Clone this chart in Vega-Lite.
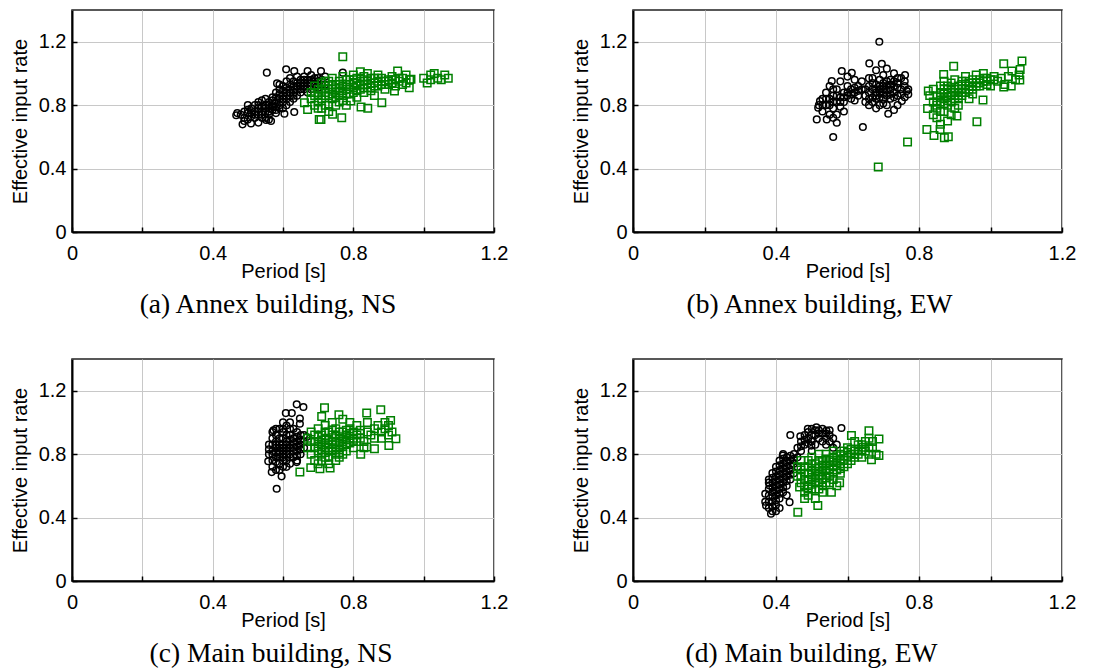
{
  "$schema": "https://vega.github.io/schema/vega-lite/v6.json",
  "background": "white",
  "padding": {"left": 9, "top": 9, "right": 5, "bottom": 0},
  "config": {
    "view": {"stroke": "#222222", "strokeWidth": 1.5},
    "font": "Liberation Sans",
    "axis": {
      "labelFont": "Liberation Sans", "labelFontSize": 20, "labelColor": "black",
      "titleFont": "Liberation Sans", "titleFontSize": 20, "titleFontWeight": "normal", "titleColor": "black",
      "domainColor": "black", "domainWidth": 2,
      "tickColor": "black", "tickWidth": 1.5, "tickSize": -5,
      "gridColor": "#c8c8c8", "gridWidth": 1, "gridOpacity": 1,
      "labelFlush": false, "labelOverlap": false
    },
    "axisX": {"labelPadding": 16, "titlePadding": -2},
    "axisY": {"labelPadding": 11, "titlePadding": 8},
    "title": {"font": "Liberation Serif", "fontSize": 27.5, "fontWeight": "normal", "color": "black", "orient": "bottom", "anchor": "middle", "offset": 10}
  },
  "datasets": {
    "a_c": [
      {"x":0.467,"y":0.736},{"x":0.485,"y":0.679},{"x":0.509,"y":0.685},{"x":0.552,"y":0.706},{"x":0.566,"y":0.700},{"x":0.554,"y":1.005},{"x":0.583,"y":0.937},{"x":0.609,"y":1.026},{"x":0.632,"y":1.015},{"x":0.670,"y":1.015},{"x":0.708,"y":1.015},{"x":0.770,"y":1.005},{"x":0.632,"y":0.757},{"x":0.604,"y":0.746},
      {"x":0.48,"y":0.74},{"x":0.49,"y":0.76},{"x":0.49,"y":0.72},{"x":0.50,"y":0.75},{"x":0.50,"y":0.71},{"x":0.51,"y":0.78},{"x":0.51,"y":0.73},{"x":0.52,"y":0.76},{"x":0.52,"y":0.80},{"x":0.52,"y":0.72},{"x":0.53,"y":0.74},{"x":0.53,"y":0.78},{"x":0.53,"y":0.82},{"x":0.54,"y":0.76},{"x":0.54,"y":0.79},{"x":0.54,"y":0.72},{"x":0.55,"y":0.80},{"x":0.55,"y":0.76},{"x":0.55,"y":0.84},{"x":0.56,"y":0.78},{"x":0.56,"y":0.82},{"x":0.56,"y":0.74},{"x":0.57,"y":0.80},{"x":0.57,"y":0.85},{"x":0.57,"y":0.77},{"x":0.58,"y":0.82},{"x":0.58,"y":0.79},{"x":0.58,"y":0.88},{"x":0.59,"y":0.84},{"x":0.59,"y":0.80},{"x":0.59,"y":0.90},{"x":0.60,"y":0.86},{"x":0.60,"y":0.82},{"x":0.60,"y":0.92},{"x":0.60,"y":0.78},{"x":0.61,"y":0.84},{"x":0.61,"y":0.88},{"x":0.61,"y":0.95},{"x":0.62,"y":0.86},{"x":0.62,"y":0.90},{"x":0.62,"y":0.82},{"x":0.62,"y":0.97},{"x":0.63,"y":0.88},{"x":0.63,"y":0.92},{"x":0.63,"y":0.84},{"x":0.64,"y":0.90},{"x":0.64,"y":0.94},{"x":0.64,"y":0.86},{"x":0.64,"y":0.98},{"x":0.65,"y":0.92},{"x":0.65,"y":0.88},{"x":0.65,"y":0.96},{"x":0.66,"y":0.90},{"x":0.66,"y":0.94},{"x":0.66,"y":0.98},{"x":0.67,"y":0.92},{"x":0.67,"y":0.88},{"x":0.67,"y":0.96},{"x":0.68,"y":0.94},{"x":0.68,"y":0.90},{"x":0.68,"y":0.99},{"x":0.69,"y":0.93},{"x":0.69,"y":0.97},{"x":0.70,"y":0.95},{"x":0.70,"y":0.91},{"x":0.71,"y":0.96},{"x":0.72,"y":0.98},{"x":0.72,"y":0.93},{"x":0.56,"y":0.71},{"x":0.58,"y":0.75},{"x":0.50,"y":0.80},{"x":0.47,"y":0.75},{"x":0.53,"y":0.69},
      {"x":0.49,"y":0.70},{"x":0.50,"y":0.77},{"x":0.51,"y":0.75},{"x":0.52,"y":0.74},{"x":0.53,"y":0.80},{"x":0.54,"y":0.74},{"x":0.54,"y":0.83},{"x":0.55,"y":0.78},{"x":0.55,"y":0.72},{"x":0.56,"y":0.80},{"x":0.56,"y":0.76},{"x":0.57,"y":0.83},{"x":0.58,"y":0.77},{"x":0.58,"y":0.85},{"x":0.59,"y":0.87},{"x":0.59,"y":0.78},{"x":0.60,"y":0.84},{"x":0.60,"y":0.89},{"x":0.61,"y":0.80},{"x":0.61,"y":0.91},{"x":0.62,"y":0.88},{"x":0.62,"y":0.93},{"x":0.63,"y":0.86},{"x":0.63,"y":0.95},{"x":0.64,"y":0.92},{"x":0.65,"y":0.90},{"x":0.65,"y":0.94},{"x":0.66,"y":0.92},{"x":0.66,"y":0.96},{"x":0.67,"y":0.94},{"x":0.68,"y":0.96},{"x":0.69,"y":0.95},{"x":0.70,"y":0.97},{"x":0.71,"y":0.93},{"x":0.57,"y":0.79},{"x":0.59,"y":0.93}
    ],
    "a_s": [
      {"x":0.661,"y":0.815},{"x":0.670,"y":0.773},{"x":0.703,"y":0.710},{"x":0.708,"y":0.710},{"x":0.741,"y":0.742},{"x":0.767,"y":0.721},{"x":0.770,"y":1.105},{"x":0.822,"y":0.788},{"x":0.841,"y":0.780},{"x":0.881,"y":0.815},{"x":0.793,"y":0.826},{"x":1.00,"y":0.97},{"x":1.01,"y":0.94},{"x":1.02,"y":0.99},{"x":1.03,"y":1.00},{"x":1.04,"y":0.97},{"x":1.05,"y":0.96},{"x":1.06,"y":0.99},{"x":1.07,"y":0.97},{"x":1.02,"y":0.96},{"x":0.926,"y":1.015},{"x":0.959,"y":0.910},{"x":0.964,"y":0.963},{"x":0.917,"y":0.889},
      {"x":0.68,"y":0.84},{"x":0.68,"y":0.88},{"x":0.69,"y":0.80},{"x":0.69,"y":0.92},{"x":0.70,"y":0.86},{"x":0.70,"y":0.82},{"x":0.70,"y":0.90},{"x":0.71,"y":0.94},{"x":0.71,"y":0.84},{"x":0.71,"y":0.78},{"x":0.72,"y":0.88},{"x":0.72,"y":0.92},{"x":0.72,"y":0.80},{"x":0.73,"y":0.86},{"x":0.73,"y":0.95},{"x":0.73,"y":0.76},{"x":0.74,"y":0.90},{"x":0.74,"y":0.84},{"x":0.74,"y":0.97},{"x":0.75,"y":0.88},{"x":0.75,"y":0.93},{"x":0.75,"y":0.80},{"x":0.76,"y":0.86},{"x":0.76,"y":0.95},{"x":0.76,"y":0.91},{"x":0.77,"y":0.89},{"x":0.77,"y":0.98},{"x":0.77,"y":0.83},{"x":0.78,"y":0.93},{"x":0.78,"y":0.87},{"x":0.79,"y":0.96},{"x":0.79,"y":0.90},{"x":0.80,"y":0.94},{"x":0.80,"y":0.88},{"x":0.80,"y":0.99},{"x":0.81,"y":0.92},{"x":0.81,"y":0.97},{"x":0.81,"y":0.85},{"x":0.82,"y":1.01},{"x":0.82,"y":0.95},{"x":0.82,"y":0.90},{"x":0.83,"y":0.93},{"x":0.83,"y":0.98},{"x":0.84,"y":0.96},{"x":0.84,"y":0.91},{"x":0.84,"y":1.00},{"x":0.85,"y":0.94},{"x":0.85,"y":0.89},{"x":0.86,"y":0.97},{"x":0.86,"y":0.92},{"x":0.87,"y":0.95},{"x":0.87,"y":0.99},{"x":0.88,"y":0.93},{"x":0.88,"y":0.97},{"x":0.89,"y":0.95},{"x":0.89,"y":0.90},{"x":0.90,"y":0.96},{"x":0.90,"y":0.93},{"x":0.91,"y":0.98},{"x":0.91,"y":0.94},{"x":0.92,"y":0.92},{"x":0.92,"y":0.96},{"x":0.93,"y":0.95},{"x":0.94,"y":0.93},{"x":0.94,"y":0.97},{"x":0.95,"y":0.99},{"x":0.95,"y":0.94},{"x":0.96,"y":0.96},{"x":0.78,"y":0.80},{"x":0.86,"y":0.86},{"x":0.83,"y":0.88},
      {"x":0.69,"y":0.86},{"x":0.70,"y":0.88},{"x":0.71,"y":0.90},{"x":0.72,"y":0.86},{"x":0.72,"y":0.95},{"x":0.73,"y":0.90},{"x":0.74,"y":0.93},{"x":0.74,"y":0.87},{"x":0.75,"y":0.91},{"x":0.75,"y":0.85},{"x":0.76,"y":0.89},{"x":0.76,"y":0.93},{"x":0.77,"y":0.92},{"x":0.77,"y":0.86},{"x":0.78,"y":0.90},{"x":0.78,"y":0.96},{"x":0.79,"y":0.93},{"x":0.79,"y":0.87},{"x":0.80,"y":0.91},{"x":0.80,"y":0.96},{"x":0.81,"y":0.94},{"x":0.81,"y":0.89},{"x":0.82,"y":0.93},{"x":0.82,"y":0.97},{"x":0.83,"y":0.95},{"x":0.83,"y":0.91},{"x":0.84,"y":0.93},{"x":0.85,"y":0.97},{"x":0.85,"y":0.91},{"x":0.86,"y":0.94},{"x":0.87,"y":0.92},{"x":0.87,"y":0.97},{"x":0.88,"y":0.95},{"x":0.89,"y":0.93},{"x":0.90,"y":0.95},{"x":0.91,"y":0.96},{"x":0.93,"y":0.97},{"x":0.76,"y":0.82},{"x":0.73,"y":0.80},{"x":0.70,"y":0.78}
    ],
    "b_c": [
      {"x":0.689,"y":1.20},{"x":0.560,"y":0.599},{"x":0.643,"y":0.662},{"x":0.514,"y":0.710},{"x":0.542,"y":0.710},{"x":0.570,"y":0.689},{"x":0.556,"y":0.952},{"x":0.584,"y":1.015},{"x":0.612,"y":1.004},{"x":0.661,"y":1.063},{"x":0.696,"y":1.061},{"x":0.714,"y":0.746},{"x":0.761,"y":0.990},{"x":0.766,"y":0.889},{"x":0.770,"y":0.868},{"x":0.752,"y":0.826},{"x":0.523,"y":0.826},{"x":0.518,"y":0.784},
      {"x":0.52,"y":0.80},{"x":0.53,"y":0.84},{"x":0.53,"y":0.76},{"x":0.54,"y":0.88},{"x":0.54,"y":0.80},{"x":0.55,"y":0.74},{"x":0.55,"y":0.84},{"x":0.55,"y":0.92},{"x":0.56,"y":0.78},{"x":0.56,"y":0.86},{"x":0.57,"y":0.82},{"x":0.57,"y":0.90},{"x":0.57,"y":0.74},{"x":0.58,"y":0.85},{"x":0.58,"y":0.79},{"x":0.58,"y":0.95},{"x":0.59,"y":0.88},{"x":0.59,"y":0.82},{"x":0.59,"y":0.76},{"x":0.60,"y":0.92},{"x":0.60,"y":0.86},{"x":0.60,"y":0.98},{"x":0.61,"y":0.84},{"x":0.61,"y":0.90},{"x":0.62,"y":0.96},{"x":0.62,"y":0.88},{"x":0.63,"y":0.92},{"x":0.63,"y":0.86},{"x":0.64,"y":0.90},{"x":0.64,"y":0.95},{"x":0.62,"y":0.83},{"x":0.56,"y":0.72},
      {"x":0.65,"y":0.86},{"x":0.65,"y":0.82},{"x":0.66,"y":0.92},{"x":0.66,"y":0.88},{"x":0.66,"y":0.80},{"x":0.67,"y":0.94},{"x":0.67,"y":0.85},{"x":0.67,"y":0.97},{"x":0.68,"y":0.90},{"x":0.68,"y":0.86},{"x":0.68,"y":0.78},{"x":0.68,"y":1.02},{"x":0.69,"y":0.92},{"x":0.69,"y":0.88},{"x":0.69,"y":0.96},{"x":0.70,"y":0.84},{"x":0.70,"y":0.90},{"x":0.70,"y":0.99},{"x":0.70,"y":0.94},{"x":0.71,"y":0.86},{"x":0.71,"y":0.92},{"x":0.71,"y":0.80},{"x":0.71,"y":1.03},{"x":0.72,"y":0.90},{"x":0.72,"y":0.96},{"x":0.72,"y":0.84},{"x":0.73,"y":0.92},{"x":0.73,"y":0.88},{"x":0.73,"y":1.00},{"x":0.74,"y":0.94},{"x":0.74,"y":0.86},{"x":0.74,"y":0.80},{"x":0.75,"y":0.90},{"x":0.75,"y":0.97},{"x":0.76,"y":0.92},{"x":0.76,"y":0.85},{"x":0.77,"y":0.90},{"x":0.73,"y":0.77},{"x":0.69,"y":0.80},{"x":0.66,"y":0.97},
      {"x":0.65,"y":0.90},{"x":0.66,"y":0.84},{"x":0.67,"y":0.90},{"x":0.67,"y":0.82},{"x":0.68,"y":0.93},{"x":0.68,"y":0.88},{"x":0.69,"y":0.85},{"x":0.69,"y":0.90},{"x":0.70,"y":0.87},{"x":0.70,"y":0.92},{"x":0.71,"y":0.89},{"x":0.71,"y":0.95},{"x":0.72,"y":0.87},{"x":0.72,"y":0.93},{"x":0.73,"y":0.95},{"x":0.73,"y":0.85},{"x":0.74,"y":0.91},{"x":0.74,"y":0.97},{"x":0.75,"y":0.87},{"x":0.76,"y":0.95},{"x":0.70,"y":0.81},{"x":0.68,"y":0.84},
      {"x":0.54,"y":0.84},{"x":0.55,"y":0.80},{"x":0.56,"y":0.82},{"x":0.57,"y":0.86},{"x":0.58,"y":0.82},{"x":0.59,"y":0.85},{"x":0.60,"y":0.88},{"x":0.61,"y":0.87},{"x":0.62,"y":0.91},{"x":0.63,"y":0.89},{"x":0.53,"y":0.80},{"x":0.56,"y":0.90}
    ],
    "b_s": [
      {"x":0.686,"y":0.410},{"x":0.768,"y":0.567},{"x":0.962,"y":0.695},{"x":0.979,"y":0.832},{"x":0.822,"y":0.647},{"x":0.842,"y":0.609},{"x":0.871,"y":0.595},{"x":0.882,"y":0.601},{"x":0.859,"y":0.647},{"x":0.824,"y":0.779},{"x":0.826,"y":0.889},{"x":0.906,"y":0.731},{"x":0.897,"y":1.046},{"x":0.869,"y":0.994},{"x":1.088,"y":1.078},{"x":1.037,"y":1.061},{"x":1.083,"y":1.025},{"x":1.060,"y":1.015},{"x":1.037,"y":0.914},{"x":1.058,"y":0.920},{"x":1.082,"y":0.958},
      {"x":0.83,"y":0.86},{"x":0.84,"y":0.82},{"x":0.84,"y":0.90},{"x":0.85,"y":0.78},{"x":0.85,"y":0.86},{"x":0.85,"y":0.72},{"x":0.86,"y":0.88},{"x":0.86,"y":0.82},{"x":0.86,"y":0.68},{"x":0.87,"y":0.90},{"x":0.87,"y":0.84},{"x":0.87,"y":0.76},{"x":0.87,"y":0.95},{"x":0.88,"y":0.88},{"x":0.88,"y":0.92},{"x":0.88,"y":0.80},{"x":0.88,"y":0.70},{"x":0.89,"y":0.86},{"x":0.89,"y":0.94},{"x":0.89,"y":0.82},{"x":0.90,"y":0.90},{"x":0.90,"y":0.86},{"x":0.90,"y":0.96},{"x":0.90,"y":0.78},{"x":0.91,"y":0.88},{"x":0.91,"y":0.92},{"x":0.91,"y":0.84},{"x":0.92,"y":0.90},{"x":0.92,"y":0.95},{"x":0.92,"y":0.86},{"x":0.93,"y":0.92},{"x":0.93,"y":0.88},{"x":0.93,"y":0.98},{"x":0.94,"y":0.90},{"x":0.94,"y":0.94},{"x":0.94,"y":0.84},{"x":0.95,"y":0.96},{"x":0.95,"y":0.92},{"x":0.96,"y":0.94},{"x":0.96,"y":0.99},{"x":0.97,"y":0.92},{"x":0.97,"y":0.96},{"x":0.98,"y":0.95},{"x":0.98,"y":1.00},{"x":0.99,"y":0.93},{"x":0.99,"y":0.97},{"x":1.00,"y":0.96},{"x":1.00,"y":0.92},{"x":1.01,"y":0.98},{"x":1.02,"y":0.95},{"x":1.03,"y":0.97},{"x":1.04,"y":0.93},{"x":1.05,"y":0.98},{"x":1.07,"y":0.96},{"x":1.08,"y":0.99},{"x":0.91,"y":0.80},{"x":0.95,"y":0.87},{"x":0.89,"y":0.74},{"x":0.86,"y":0.92},{"x":0.84,"y":0.74},
      {"x":0.85,"y":0.82},{"x":0.86,"y":0.85},{"x":0.87,"y":0.87},{"x":0.87,"y":0.81},{"x":0.88,"y":0.85},{"x":0.88,"y":0.90},{"x":0.89,"y":0.88},{"x":0.89,"y":0.91},{"x":0.90,"y":0.84},{"x":0.90,"y":0.88},{"x":0.91,"y":0.90},{"x":0.91,"y":0.86},{"x":0.92,"y":0.88},{"x":0.92,"y":0.93},{"x":0.93,"y":0.90},{"x":0.93,"y":0.95},{"x":0.94,"y":0.92},{"x":0.95,"y":0.94},{"x":0.95,"y":0.90},{"x":0.96,"y":0.92},{"x":0.97,"y":0.94},{"x":0.98,"y":0.97},{"x":0.99,"y":0.95},{"x":1.01,"y":0.96},{"x":0.86,"y":0.76},{"x":0.85,"y":0.80},{"x":0.88,"y":0.83}
    ],
    "c_c": [
      {"x":0.582,"y":0.582},{"x":0.596,"y":0.660},{"x":0.558,"y":0.755},{"x":0.568,"y":0.687},{"x":0.639,"y":1.114},{"x":0.658,"y":1.097},{"x":0.608,"y":1.059},{"x":0.625,"y":1.059},{"x":0.648,"y":1.024},{"x":0.648,"y":0.992},{"x":0.639,"y":0.750},{"x":0.573,"y":0.950},{"x":0.667,"y":0.908},
      {"x":0.56,"y":0.80},{"x":0.56,"y":0.86},{"x":0.57,"y":0.76},{"x":0.57,"y":0.82},{"x":0.57,"y":0.90},{"x":0.57,"y":0.72},{"x":0.58,"y":0.78},{"x":0.58,"y":0.84},{"x":0.58,"y":0.92},{"x":0.58,"y":0.70},{"x":0.58,"y":0.88},{"x":0.59,"y":0.74},{"x":0.59,"y":0.80},{"x":0.59,"y":0.86},{"x":0.59,"y":0.96},{"x":0.59,"y":0.82},{"x":0.60,"y":0.78},{"x":0.60,"y":0.84},{"x":0.60,"y":0.90},{"x":0.60,"y":0.72},{"x":0.60,"y":0.94},{"x":0.60,"y":0.80},{"x":0.61,"y":0.76},{"x":0.61,"y":0.82},{"x":0.61,"y":0.88},{"x":0.61,"y":0.98},{"x":0.61,"y":0.86},{"x":0.62,"y":0.80},{"x":0.62,"y":0.86},{"x":0.62,"y":0.92},{"x":0.62,"y":0.74},{"x":0.62,"y":1.00},{"x":0.63,"y":0.84},{"x":0.63,"y":0.90},{"x":0.63,"y":0.78},{"x":0.63,"y":0.96},{"x":0.64,"y":0.82},{"x":0.64,"y":0.88},{"x":0.64,"y":0.94},{"x":0.64,"y":0.76},{"x":0.65,"y":0.86},{"x":0.65,"y":0.92},{"x":0.65,"y":0.80},{"x":0.66,"y":0.88},{"x":0.66,"y":0.84},{"x":0.59,"y":0.70},{"x":0.61,"y":0.72},{"x":0.57,"y":0.94},{"x":0.60,"y":1.00},{"x":0.62,"y":0.96},
      {"x":0.57,"y":0.80},{"x":0.57,"y":0.86},{"x":0.58,"y":0.81},{"x":0.58,"y":0.86},{"x":0.58,"y":0.75},{"x":0.59,"y":0.78},{"x":0.59,"y":0.84},{"x":0.59,"y":0.90},{"x":0.60,"y":0.82},{"x":0.60,"y":0.86},{"x":0.60,"y":0.76},{"x":0.61,"y":0.80},{"x":0.61,"y":0.84},{"x":0.61,"y":0.92},{"x":0.62,"y":0.84},{"x":0.62,"y":0.78},{"x":0.62,"y":0.89},{"x":0.63,"y":0.82},{"x":0.63,"y":0.87},{"x":0.64,"y":0.85},{"x":0.64,"y":0.91},{"x":0.65,"y":0.83},{"x":0.65,"y":0.89},{"x":0.60,"y":0.96},{"x":0.58,"y":0.96},{"x":0.56,"y":0.83},{"x":0.66,"y":0.92},{"x":0.64,"y":0.79}
    ],
    "c_s": [
      {"x":0.648,"y":0.687},{"x":0.679,"y":0.715},{"x":0.710,"y":1.038},{"x":0.718,"y":1.093},{"x":0.759,"y":1.049},{"x":0.838,"y":1.059},{"x":0.878,"y":1.080},{"x":0.906,"y":1.013},{"x":0.921,"y":0.897},{"x":0.901,"y":0.855},{"x":0.860,"y":0.834},{"x":0.838,"y":0.845},{"x":0.821,"y":0.799},{"x":0.734,"y":0.712},{"x":0.705,"y":0.708},
      {"x":0.67,"y":0.84},{"x":0.67,"y":0.90},{"x":0.68,"y":0.80},{"x":0.68,"y":0.88},{"x":0.68,"y":0.94},{"x":0.69,"y":0.76},{"x":0.69,"y":0.84},{"x":0.69,"y":0.92},{"x":0.70,"y":0.82},{"x":0.70,"y":0.88},{"x":0.70,"y":0.96},{"x":0.70,"y":0.74},{"x":0.71,"y":0.86},{"x":0.71,"y":0.80},{"x":0.71,"y":0.92},{"x":0.72,"y":0.84},{"x":0.72,"y":0.90},{"x":0.72,"y":0.78},{"x":0.72,"y":0.98},{"x":0.73,"y":0.86},{"x":0.73,"y":0.82},{"x":0.73,"y":0.94},{"x":0.73,"y":0.74},{"x":0.74,"y":0.88},{"x":0.74,"y":0.84},{"x":0.74,"y":0.92},{"x":0.74,"y":1.00},{"x":0.75,"y":0.86},{"x":0.75,"y":0.80},{"x":0.75,"y":0.96},{"x":0.76,"y":0.90},{"x":0.76,"y":0.84},{"x":0.76,"y":0.78},{"x":0.77,"y":0.88},{"x":0.77,"y":0.94},{"x":0.77,"y":1.02},{"x":0.78,"y":0.86},{"x":0.78,"y":0.92},{"x":0.78,"y":0.82},{"x":0.79,"y":0.90},{"x":0.79,"y":0.96},{"x":0.79,"y":1.00},{"x":0.80,"y":0.88},{"x":0.80,"y":0.94},{"x":0.80,"y":0.84},{"x":0.81,"y":0.92},{"x":0.81,"y":0.98},{"x":0.82,"y":0.90},{"x":0.82,"y":0.95},{"x":0.83,"y":0.88},{"x":0.84,"y":0.94},{"x":0.84,"y":1.00},{"x":0.85,"y":0.92},{"x":0.86,"y":0.96},{"x":0.86,"y":0.90},{"x":0.87,"y":0.98},{"x":0.88,"y":0.94},{"x":0.88,"y":0.90},{"x":0.89,"y":0.96},{"x":0.89,"y":1.00},{"x":0.90,"y":0.92},{"x":0.91,"y":0.94},{"x":0.90,"y":0.98},{"x":0.83,"y":0.84},{"x":0.75,"y":0.76},
      {"x":0.69,"y":0.88},{"x":0.70,"y":0.85},{"x":0.70,"y":0.91},{"x":0.71,"y":0.83},{"x":0.71,"y":0.89},{"x":0.72,"y":0.87},{"x":0.72,"y":0.81},{"x":0.73,"y":0.89},{"x":0.73,"y":0.84},{"x":0.73,"y":0.78},{"x":0.74,"y":0.86},{"x":0.74,"y":0.82},{"x":0.74,"y":0.95},{"x":0.75,"y":0.88},{"x":0.75,"y":0.83},{"x":0.75,"y":0.92},{"x":0.76,"y":0.87},{"x":0.76,"y":0.81},{"x":0.76,"y":0.94},{"x":0.77,"y":0.85},{"x":0.77,"y":0.91},{"x":0.77,"y":0.80},{"x":0.78,"y":0.89},{"x":0.78,"y":0.95},{"x":0.79,"y":0.87},{"x":0.79,"y":0.93},{"x":0.80,"y":0.90},{"x":0.81,"y":0.88},{"x":0.82,"y":0.93},{"x":0.72,"y":0.94},{"x":0.71,"y":0.76}
    ],
    "d_c": [
      {"x":0.372,"y":0.476},{"x":0.386,"y":0.424},{"x":0.440,"y":0.921},{"x":0.468,"y":0.913},{"x":0.583,"y":0.965},{"x":0.489,"y":0.959},{"x":0.513,"y":0.969},{"x":0.541,"y":0.948},{"x":0.499,"y":0.854},{"x":0.382,"y":0.602},{"x":0.438,"y":0.497},{"x":0.419,"y":0.791},
      {"x":0.37,"y":0.50},{"x":0.38,"y":0.46},{"x":0.38,"y":0.54},{"x":0.38,"y":0.58},{"x":0.39,"y":0.44},{"x":0.39,"y":0.50},{"x":0.39,"y":0.56},{"x":0.39,"y":0.62},{"x":0.39,"y":0.68},{"x":0.40,"y":0.48},{"x":0.40,"y":0.54},{"x":0.40,"y":0.60},{"x":0.40,"y":0.66},{"x":0.40,"y":0.72},{"x":0.41,"y":0.52},{"x":0.41,"y":0.58},{"x":0.41,"y":0.64},{"x":0.41,"y":0.70},{"x":0.41,"y":0.76},{"x":0.42,"y":0.56},{"x":0.42,"y":0.62},{"x":0.42,"y":0.68},{"x":0.42,"y":0.74},{"x":0.42,"y":0.80},{"x":0.43,"y":0.60},{"x":0.43,"y":0.66},{"x":0.43,"y":0.72},{"x":0.43,"y":0.78},{"x":0.44,"y":0.64},{"x":0.44,"y":0.70},{"x":0.44,"y":0.76},{"x":0.45,"y":0.68},{"x":0.45,"y":0.74},{"x":0.45,"y":0.80},{"x":0.46,"y":0.78},{"x":0.46,"y":0.72},{"x":0.40,"y":0.44},{"x":0.41,"y":0.46},{"x":0.38,"y":0.64},{"x":0.43,"y":0.54},
      {"x":0.46,"y":0.84},{"x":0.47,"y":0.88},{"x":0.47,"y":0.82},{"x":0.48,"y":0.92},{"x":0.48,"y":0.86},{"x":0.49,"y":0.90},{"x":0.49,"y":0.94},{"x":0.50,"y":0.88},{"x":0.50,"y":0.96},{"x":0.51,"y":0.92},{"x":0.51,"y":0.86},{"x":0.52,"y":0.95},{"x":0.52,"y":0.90},{"x":0.53,"y":0.88},{"x":0.53,"y":0.93},{"x":0.54,"y":0.90},{"x":0.54,"y":0.86},{"x":0.55,"y":0.92},{"x":0.55,"y":0.88},{"x":0.56,"y":0.90},{"x":0.57,"y":0.86},{"x":0.56,"y":0.84},{"x":0.50,"y":0.82},
      {"x":0.38,"y":0.50},{"x":0.38,"y":0.62},{"x":0.39,"y":0.53},{"x":0.39,"y":0.59},{"x":0.39,"y":0.47},{"x":0.40,"y":0.51},{"x":0.40,"y":0.57},{"x":0.40,"y":0.63},{"x":0.40,"y":0.69},{"x":0.41,"y":0.55},{"x":0.41,"y":0.61},{"x":0.41,"y":0.67},{"x":0.41,"y":0.73},{"x":0.42,"y":0.59},{"x":0.42,"y":0.65},{"x":0.42,"y":0.71},{"x":0.42,"y":0.77},{"x":0.43,"y":0.63},{"x":0.43,"y":0.69},{"x":0.43,"y":0.75},{"x":0.44,"y":0.67},{"x":0.44,"y":0.73},{"x":0.44,"y":0.79},{"x":0.45,"y":0.77},{"x":0.37,"y":0.55},{"x":0.39,"y":0.65},
      {"x":0.48,"y":0.89},{"x":0.49,"y":0.87},{"x":0.50,"y":0.92},{"x":0.51,"y":0.95},{"x":0.52,"y":0.93},{"x":0.53,"y":0.96},{"x":0.54,"y":0.93},{"x":0.55,"y":0.95},{"x":0.47,"y":0.85}
    ],
    "d_s": [
      {"x":0.461,"y":0.434},{"x":0.517,"y":0.476},{"x":0.466,"y":0.592},{"x":0.660,"y":0.948},{"x":0.611,"y":0.917},{"x":0.688,"y":0.896},{"x":0.688,"y":0.791},{"x":0.667,"y":0.764},{"x":0.644,"y":0.843},{"x":0.578,"y":0.619},{"x":0.555,"y":0.560},
      {"x":0.46,"y":0.66},{"x":0.46,"y":0.72},{"x":0.47,"y":0.62},{"x":0.47,"y":0.70},{"x":0.47,"y":0.76},{"x":0.48,"y":0.56},{"x":0.48,"y":0.64},{"x":0.48,"y":0.72},{"x":0.48,"y":0.52},{"x":0.49,"y":0.60},{"x":0.49,"y":0.68},{"x":0.49,"y":0.76},{"x":0.49,"y":0.54},{"x":0.50,"y":0.64},{"x":0.50,"y":0.70},{"x":0.50,"y":0.58},{"x":0.50,"y":0.78},{"x":0.51,"y":0.62},{"x":0.51,"y":0.68},{"x":0.51,"y":0.74},{"x":0.51,"y":0.52},{"x":0.52,"y":0.66},{"x":0.52,"y":0.72},{"x":0.52,"y":0.58},{"x":0.52,"y":0.80},{"x":0.53,"y":0.64},{"x":0.53,"y":0.70},{"x":0.53,"y":0.76},{"x":0.53,"y":0.56},{"x":0.54,"y":0.68},{"x":0.54,"y":0.74},{"x":0.54,"y":0.62},{"x":0.54,"y":0.80},{"x":0.55,"y":0.70},{"x":0.55,"y":0.66},{"x":0.55,"y":0.76},{"x":0.56,"y":0.72},{"x":0.56,"y":0.78},{"x":0.56,"y":0.64},{"x":0.56,"y":0.82},{"x":0.57,"y":0.70},{"x":0.57,"y":0.76},{"x":0.57,"y":0.60},{"x":0.58,"y":0.74},{"x":0.58,"y":0.80},{"x":0.58,"y":0.68},{"x":0.59,"y":0.76},{"x":0.59,"y":0.82},{"x":0.59,"y":0.72},{"x":0.60,"y":0.78},{"x":0.60,"y":0.74},{"x":0.60,"y":0.84},{"x":0.61,"y":0.80},{"x":0.61,"y":0.76},{"x":0.62,"y":0.82},{"x":0.62,"y":0.78},{"x":0.63,"y":0.80},{"x":0.63,"y":0.86},{"x":0.64,"y":0.78},{"x":0.65,"y":0.82},{"x":0.65,"y":0.88},{"x":0.66,"y":0.80},{"x":0.67,"y":0.84},{"x":0.68,"y":0.80},{"x":0.66,"y":0.90},{"x":0.62,"y":0.88},
      {"x":0.47,"y":0.66},{"x":0.48,"y":0.68},{"x":0.48,"y":0.60},{"x":0.49,"y":0.64},{"x":0.49,"y":0.72},{"x":0.50,"y":0.67},{"x":0.50,"y":0.61},{"x":0.50,"y":0.74},{"x":0.51,"y":0.65},{"x":0.51,"y":0.71},{"x":0.51,"y":0.58},{"x":0.52,"y":0.69},{"x":0.52,"y":0.62},{"x":0.52,"y":0.76},{"x":0.53,"y":0.67},{"x":0.53,"y":0.73},{"x":0.53,"y":0.60},{"x":0.54,"y":0.71},{"x":0.54,"y":0.65},{"x":0.54,"y":0.77},{"x":0.55,"y":0.73},{"x":0.55,"y":0.62},{"x":0.56,"y":0.75},{"x":0.56,"y":0.68},{"x":0.57,"y":0.73},{"x":0.57,"y":0.79},{"x":0.58,"y":0.77},{"x":0.58,"y":0.71},{"x":0.59,"y":0.79},{"x":0.60,"y":0.81},{"x":0.61,"y":0.83},{"x":0.62,"y":0.80},{"x":0.63,"y":0.83},{"x":0.64,"y":0.82},{"x":0.64,"y":0.86},{"x":0.66,"y":0.84},{"x":0.67,"y":0.88},{"x":0.49,"y":0.58}
    ]
  },
  "columns": 2,
  "spacing": {"row": 38, "column": 61},
  "concat": [
    {
      "width": 422, "height": 222,
      "title": {"text": "(a) Annex building, NS", "dx": -15},
      "layer": [
        {"data": {"name": "a_c"}, "mark": {"type": "point", "shape": "circle", "filled": false, "stroke": "black", "strokeWidth": 1.5, "size": 44, "opacity": 1},
         "encoding": {
           "x": {"field": "x", "type": "quantitative", "scale": {"domain": [0, 1.2], "nice": false, "zero": false}, "axis": {"title": "Period [s]", "values": [0, 0.2, 0.4, 0.6, 0.8, 1.0, 1.2], "labelExpr": "round(datum.value*10) % 4 == 0 ? (datum.value == 0 ? '0' : format(datum.value, '.1f')) : ''"}},
           "y": {"field": "y", "type": "quantitative", "scale": {"domain": [0, 1.4], "nice": false, "zero": false}, "axis": {"title": "Effective input rate", "values": [0, 0.2, 0.4, 0.6, 0.8, 1.0, 1.2, 1.4], "labelExpr": "round(datum.value*10) % 4 == 0 ? (datum.value == 0 ? '0' : format(datum.value, '.1f')) : ''"}}
         }},
        {"data": {"name": "a_s"}, "mark": {"type": "point", "shape": "square", "filled": false, "stroke": "#008000", "strokeWidth": 1.5, "size": 56, "opacity": 1},
         "encoding": {"x": {"field": "x", "type": "quantitative"}, "y": {"field": "y", "type": "quantitative"}}}
      ]
    },
    {
      "width": 429, "height": 222,
      "title": {"text": "(b) Annex building, EW", "dx": -28},
      "layer": [
        {"data": {"name": "b_c"}, "mark": {"type": "point", "shape": "circle", "filled": false, "stroke": "black", "strokeWidth": 1.5, "size": 44, "opacity": 1},
         "encoding": {
           "x": {"field": "x", "type": "quantitative", "scale": {"domain": [0, 1.2], "nice": false, "zero": false}, "axis": {"title": "Period [s]", "values": [0, 0.2, 0.4, 0.6, 0.8, 1.0, 1.2], "labelExpr": "round(datum.value*10) % 4 == 0 ? (datum.value == 0 ? '0' : format(datum.value, '.1f')) : ''"}},
           "y": {"field": "y", "type": "quantitative", "scale": {"domain": [0, 1.4], "nice": false, "zero": false}, "axis": {"title": "Effective input rate", "values": [0, 0.2, 0.4, 0.6, 0.8, 1.0, 1.2, 1.4], "labelExpr": "round(datum.value*10) % 4 == 0 ? (datum.value == 0 ? '0' : format(datum.value, '.1f')) : ''"}}
         }},
        {"data": {"name": "b_s"}, "mark": {"type": "point", "shape": "square", "filled": false, "stroke": "#008000", "strokeWidth": 1.5, "size": 56, "opacity": 1},
         "encoding": {"x": {"field": "x", "type": "quantitative"}, "y": {"field": "y", "type": "quantitative"}}}
      ]
    },
    {
      "width": 422, "height": 222,
      "title": {"text": "(c) Main building, NS", "dx": -12},
      "layer": [
        {"data": {"name": "c_c"}, "mark": {"type": "point", "shape": "circle", "filled": false, "stroke": "black", "strokeWidth": 1.5, "size": 44, "opacity": 1},
         "encoding": {
           "x": {"field": "x", "type": "quantitative", "scale": {"domain": [0, 1.2], "nice": false, "zero": false}, "axis": {"title": "Period [s]", "values": [0, 0.2, 0.4, 0.6, 0.8, 1.0, 1.2], "labelExpr": "round(datum.value*10) % 4 == 0 ? (datum.value == 0 ? '0' : format(datum.value, '.1f')) : ''"}},
           "y": {"field": "y", "type": "quantitative", "scale": {"domain": [0, 1.4], "nice": false, "zero": false}, "axis": {"title": "Effective input rate", "values": [0, 0.2, 0.4, 0.6, 0.8, 1.0, 1.2, 1.4], "labelExpr": "round(datum.value*10) % 4 == 0 ? (datum.value == 0 ? '0' : format(datum.value, '.1f')) : ''"}}
         }},
        {"data": {"name": "c_s"}, "mark": {"type": "point", "shape": "square", "filled": false, "stroke": "#008000", "strokeWidth": 1.5, "size": 56, "opacity": 1},
         "encoding": {"x": {"field": "x", "type": "quantitative"}, "y": {"field": "y", "type": "quantitative"}}}
      ]
    },
    {
      "width": 429, "height": 222,
      "title": {"text": "(d) Main building, EW", "dx": -36},
      "layer": [
        {"data": {"name": "d_c"}, "mark": {"type": "point", "shape": "circle", "filled": false, "stroke": "black", "strokeWidth": 1.5, "size": 44, "opacity": 1},
         "encoding": {
           "x": {"field": "x", "type": "quantitative", "scale": {"domain": [0, 1.2], "nice": false, "zero": false}, "axis": {"title": "Period [s]", "values": [0, 0.2, 0.4, 0.6, 0.8, 1.0, 1.2], "labelExpr": "round(datum.value*10) % 4 == 0 ? (datum.value == 0 ? '0' : format(datum.value, '.1f')) : ''"}},
           "y": {"field": "y", "type": "quantitative", "scale": {"domain": [0, 1.4], "nice": false, "zero": false}, "axis": {"title": "Effective input rate", "values": [0, 0.2, 0.4, 0.6, 0.8, 1.0, 1.2, 1.4], "labelExpr": "round(datum.value*10) % 4 == 0 ? (datum.value == 0 ? '0' : format(datum.value, '.1f')) : ''"}}
         }},
        {"data": {"name": "d_s"}, "mark": {"type": "point", "shape": "square", "filled": false, "stroke": "#008000", "strokeWidth": 1.5, "size": 56, "opacity": 1},
         "encoding": {"x": {"field": "x", "type": "quantitative"}, "y": {"field": "y", "type": "quantitative"}}}
      ]
    }
  ]
}
